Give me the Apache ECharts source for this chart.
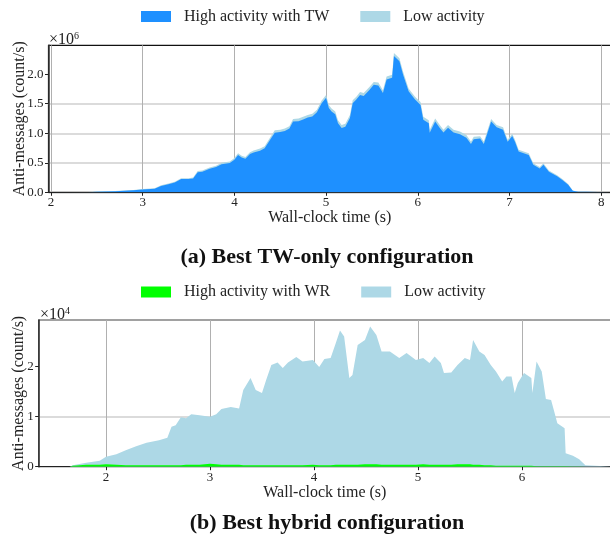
<!DOCTYPE html>
<html>
<head>
<meta charset="utf-8">
<script src="https://cdn.jsdelivr.net/npm/echarts@6/dist/echarts.min.js"></script>
<style>
  html, body { margin: 0; padding: 0; background: #fff; }
  #chart { width: 610px; height: 546px; }
</style>
</head>
<body>
<div id="chart"></div>
<script>
// (a) Best TW-only configuration, values in 10^6 count/s
var tTop = [2.00, 2.40, 2.50, 2.70, 2.90, 3.00, 3.13, 3.20, 3.28, 3.35, 3.42, 3.50, 3.55, 3.60, 3.65, 3.73, 3.80, 3.86, 3.95,
  4.00, 4.04, 4.08, 4.12, 4.17, 4.21, 4.28, 4.33, 4.39, 4.44, 4.50, 4.55, 4.60, 4.64, 4.70, 4.75, 4.80, 4.85, 4.90, 4.95,
  5.00, 5.03, 5.06, 5.10, 5.13, 5.17, 5.21, 5.26, 5.29, 5.33, 5.37, 5.41, 5.47, 5.52, 5.57, 5.62, 5.66, 5.72, 5.74, 5.80,
  5.84, 5.90, 5.97, 6.03, 6.06, 6.12, 6.13, 6.19, 6.24, 6.28, 6.33, 6.39, 6.46, 6.53, 6.58, 6.61, 6.68, 6.72, 6.75, 6.80,
  6.86, 6.93, 6.98, 7.03, 7.06, 7.10, 7.21, 7.26, 7.33, 7.37, 7.43, 7.52, 7.58, 7.64, 7.69, 7.70, 7.75, 7.84, 7.86, 8.10];
var highTop = [0, 0.002, 0.010, 0.017, 0.035, 0.047, 0.060, 0.108, 0.135, 0.165, 0.225, 0.225, 0.235, 0.34, 0.35, 0.40, 0.43, 0.475, 0.495,
  0.55, 0.63, 0.59, 0.57, 0.65, 0.675, 0.705, 0.745, 0.89, 1.01, 1.02, 1.04, 1.08, 1.20, 1.205, 1.235, 1.265, 1.285, 1.355, 1.505,
  1.60, 1.43, 1.37, 1.32, 1.17, 1.09, 1.11, 1.26, 1.51, 1.57, 1.65, 1.63, 1.73, 1.82, 1.81, 1.68, 1.91, 1.94, 2.31, 2.22,
  1.99, 1.71, 1.57, 1.48, 1.23, 1.17, 1.01, 1.20, 1.09, 1.015, 1.095, 1.015, 0.985, 0.925, 0.82, 0.90, 0.91, 0.82, 0.96, 1.20,
  1.10, 1.06, 0.855, 0.955, 0.855, 0.69, 0.63, 0.465, 0.405, 0.465, 0.35, 0.27, 0.205, 0.13, 0.025, 0, 0.008, 0.008, 0, 0];
var lowTop = [0, 0.001, 0.002, 0.003, 0.005, 0.008, 0.010, 0.012, 0.015, 0.015, 0.015, 0.015, 0.015, 0.02, 0.02, 0.02, 0.02, 0.025, 0.025,
  0.03, 0.03, 0.03, 0.03, 0.03, 0.035, 0.035, 0.035, 0.04, 0.04, 0.04, 0.04, 0.04, 0.04, 0.045, 0.045, 0.045, 0.045, 0.045, 0.045,
  0.05, 0.05, 0.05, 0.05, 0.05, 0.05, 0.05, 0.05, 0.05, 0.05, 0.05, 0.05, 0.05, 0.05, 0.05, 0.05, 0.05, 0.05, 0.05, 0.05,
  0.05, 0.05, 0.05, 0.05, 0.05, 0.05, 0.05, 0.05, 0.05, 0.045, 0.045, 0.045, 0.045, 0.045, 0.04, 0.04, 0.04, 0.04, 0.04, 0.04,
  0.04, 0.04, 0.035, 0.035, 0.035, 0.03, 0.03, 0.025, 0.025, 0.025, 0.02, 0.02, 0.015, 0.01, 0.005, 0, 0.002, 0.002, 0, 0];

// (b) Best hybrid configuration, values in 10^4 count/s
var tBot = [1.35, 1.65, 1.68, 1.81, 1.94, 2.00, 2.10, 2.19, 2.29, 2.39, 2.51, 2.59, 2.63, 2.67, 2.72, 2.77, 2.82, 2.90,
  3.00, 3.06, 3.11, 3.20, 3.28, 3.32, 3.39, 3.44, 3.50, 3.54, 3.59, 3.65, 3.70, 3.75, 3.83, 3.89, 3.99,
  4.05, 4.10, 4.16, 4.21, 4.25, 4.29, 4.34, 4.37, 4.42, 4.49, 4.54, 4.60, 4.65, 4.73, 4.82, 4.89, 4.98,
  5.05, 5.11, 5.16, 5.22, 5.25, 5.32, 5.38, 5.45, 5.50, 5.53, 5.59, 5.64, 5.70, 5.75, 5.81, 5.85, 5.90, 5.93, 5.96,
  6.02, 6.09, 6.10, 6.14, 6.19, 6.23, 6.28, 6.31, 6.34, 6.41, 6.42, 6.49, 6.55, 6.61, 6.62, 6.86];
var highBot = [0, 0, 0.02, 0.04, 0.04, 0.05, 0.04, 0.03, 0.03, 0.03, 0.03, 0.03, 0.03, 0.03, 0.03, 0.04, 0.04, 0.04,
  0.06, 0.05, 0.04, 0.04, 0.04, 0.03, 0.03, 0.03, 0.03, 0.03, 0.03, 0.03, 0.03, 0.03, 0.03, 0.03, 0.04,
  0.03, 0.03, 0.03, 0.04, 0.04, 0.04, 0.04, 0.04, 0.04, 0.05, 0.05, 0.05, 0.04, 0.04, 0.04, 0.04, 0.04,
  0.05, 0.04, 0.04, 0.04, 0.04, 0.04, 0.05, 0.05, 0.05, 0.04, 0.04, 0.03, 0.03, 0.02, 0.02, 0.02, 0.02, 0.02, 0.02,
  0.02, 0.02, 0.02, 0.01, 0.01, 0.01, 0.01, 0.01, 0.01, 0.01, 0.005, 0.005, 0.005, 0, 0, 0];
var lowBot = [0, 0, 0.01, 0.04, 0.08, 0.15, 0.21, 0.30, 0.38, 0.45, 0.50, 0.55, 0.77, 0.80, 0.96, 0.93, 1.01, 0.99,
  0.94, 1.00, 1.11, 1.15, 1.12, 1.50, 1.74, 1.50, 1.44, 1.70, 2.00, 2.05, 1.94, 2.05, 2.16, 2.07, 2.09,
  1.96, 2.12, 2.14, 2.43, 2.68, 2.56, 1.73, 1.79, 2.39, 2.48, 2.75, 2.58, 2.26, 2.26, 2.13, 2.23, 2.09,
  2.12, 2.03, 2.16, 2.03, 1.83, 1.84, 1.98, 2.12, 2.08, 2.49, 2.26, 2.20, 2.00, 1.88, 1.68, 1.78, 1.78, 1.45, 1.65,
  1.85, 1.75, 1.45, 2.09, 1.89, 1.34, 1.32, 1.09, 0.86, 0.76, 0.265, 0.215, 0.145, 0.03, 0, 0];

var xTicksTop = [2, 3, 4, 5, 6, 7, 8];
var yTicksTop = [0, 0.5, 1, 1.5, 2];
var xTicksBot = [2, 3, 4, 5, 6];
var yTicksBot = [0, 1, 2];

var FONT = "Liberation Serif";
var TXT = "#222";

function pairs(ts, vs) {
  return ts.map(function (t, i) { return [t, vs[i]]; });
}
// stacked top edge = high + low, drawn as a filled area behind the high layer
function stacked(ts, a, b) {
  return ts.map(function (t, i) { return [t, a[i] + b[i]]; });
}

function xAxisOf(idx, min, max, ticks) {
  return {
    type: "value",
    gridIndex: idx,
    min: min,
    max: max,
    name: "Wall-clock time (s)",
    nameLocation: "middle",
    nameGap: 17,
    nameTextStyle: { fontFamily: FONT, fontSize: 16, color: TXT },
    axisLine: { show: true, onZero: false, lineStyle: { color: "#222", width: 1.2 } },
    axisTick: { show: true, inside: false, length: 3.5, customValues: ticks, lineStyle: { color: "#222" } },
    axisLabel: { customValues: ticks, margin: 4, fontFamily: FONT, fontSize: 13, color: TXT },
    splitLine: { show: true, lineStyle: { color: "#b0b0b0", width: 1 } },
  };
}

function yAxisOf(idx, max, ticks, nameGap, digits) {
  return {
    type: "value",
    gridIndex: idx,
    min: 0,
    max: max,
    name: "Anti-messages (count/s)",
    nameLocation: "middle",
    nameGap: nameGap,
    nameMoveOverlap: false,
    nameTextStyle: { fontFamily: FONT, fontSize: 16, color: TXT },
    axisLine: { show: true, lineStyle: { color: "#333", width: 1.5 } },
    axisTick: { show: true, inside: false, length: 3.5, customValues: ticks, lineStyle: { color: "#222" } },
    axisLabel: {
      customValues: ticks, margin: 5, fontFamily: FONT, fontSize: 13, color: TXT,
      formatter: function (v) { return v.toFixed(digits); },
    },
    splitLine: { show: true, showMaxLine: false, lineStyle: { color: "#cfcfcf", width: 1.6 } },
  };
}

function areaSeries(name, xi, data, color, z) {
  return {
    name: name,
    type: "line",
    xAxisIndex: xi,
    yAxisIndex: xi,
    data: data,
    symbol: "none",
    silent: true,
    z: z,
    lineStyle: { width: 0 },
    areaStyle: { color: color, opacity: 1, origin: "start" },
    itemStyle: { color: color },
  };
}

var legendText = { fontFamily: FONT, fontSize: 16, color: TXT, padding: [0, 0, 0, 8] };

var chart = echarts.init(document.getElementById("chart"), null, { renderer: "canvas" });
chart.setOption({
  animation: false,
  backgroundColor: "#fff",
  grid: [
    { left: 48.5, top: 45.3, right: -1, bottom: 353.7, outerBoundsMode: "none", containLabel: false,
      show: true, borderColor: "#111", borderWidth: 1.2, backgroundColor: "transparent" },
    { left: 38.7, top: 320, right: -1, bottom: 79.3, outerBoundsMode: "none", containLabel: false,
      show: true, borderColor: "#444", borderWidth: 1.2, backgroundColor: "transparent" },
  ],
  legend: [
    {
      data: ["High activity with TW", "Low activity"],
      left: 141, top: 8.5, padding: 0,
      icon: "rect", itemWidth: 30, itemHeight: 11, itemGap: 31,
      textStyle: legendText, selectedMode: false,
    },
    {
      data: ["High activity with WR", "Low activity"],
      left: 141, top: 284, padding: 0,
      icon: "rect", itemWidth: 30, itemHeight: 11, itemGap: 31,
      textStyle: legendText, selectedMode: false,
    },
  ],
  xAxis: [
    xAxisOf(0, 1.973, 8.107, xTicksTop),
    xAxisOf(1, 1.353, 6.856, xTicksBot),
  ],
  yAxis: [
    yAxisOf(0, 2.49, yTicksTop, 21, 1),
    yAxisOf(1, 2.93, yTicksBot, 12, 0),
  ],
  series: [
    areaSeries("High activity with TW", 0, pairs(tTop, highTop), "#1e90ff", 3),
    areaSeries("Low activity", 0, stacked(tTop, highTop, lowTop), "#add8e6", 2),
    areaSeries("High activity with WR", 1, pairs(tBot, highBot), "#00ff00", 3),
    areaSeries("Low activity", 1, stacked(tBot, highBot, lowBot), "#add8e6", 2),
  ],
  graphic: [
    {
      type: "text", left: 49, top: 31,
      style: {
        text: "{a|×10}{b|6}",
        rich: {
          a: { fontFamily: FONT, fontSize: 16, fill: TXT },
          b: { fontFamily: FONT, fontSize: 10, fill: TXT, padding: [0, 0, 7, 0] },
        },
      },
    },
    {
      type: "text", left: 40, top: 306,
      style: {
        text: "{a|×10}{b|4}",
        rich: {
          a: { fontFamily: FONT, fontSize: 16, fill: TXT },
          b: { fontFamily: FONT, fontSize: 10, fill: TXT, padding: [0, 0, 7, 0] },
        },
      },
    },
    {
      type: "text", x: 327, y: 257,
      style: {
        text: "(a) Best TW-only configuration",
        fontFamily: FONT, fontSize: 22, fontWeight: "bold", fill: "#111",
        align: "center", verticalAlign: "middle",
      },
    },
    {
      type: "text", x: 327, y: 523,
      style: {
        text: "(b) Best hybrid configuration",
        fontFamily: FONT, fontSize: 22, fontWeight: "bold", fill: "#111",
        align: "center", verticalAlign: "middle",
      },
    },
  ],
});
</script>
</body>
</html>
